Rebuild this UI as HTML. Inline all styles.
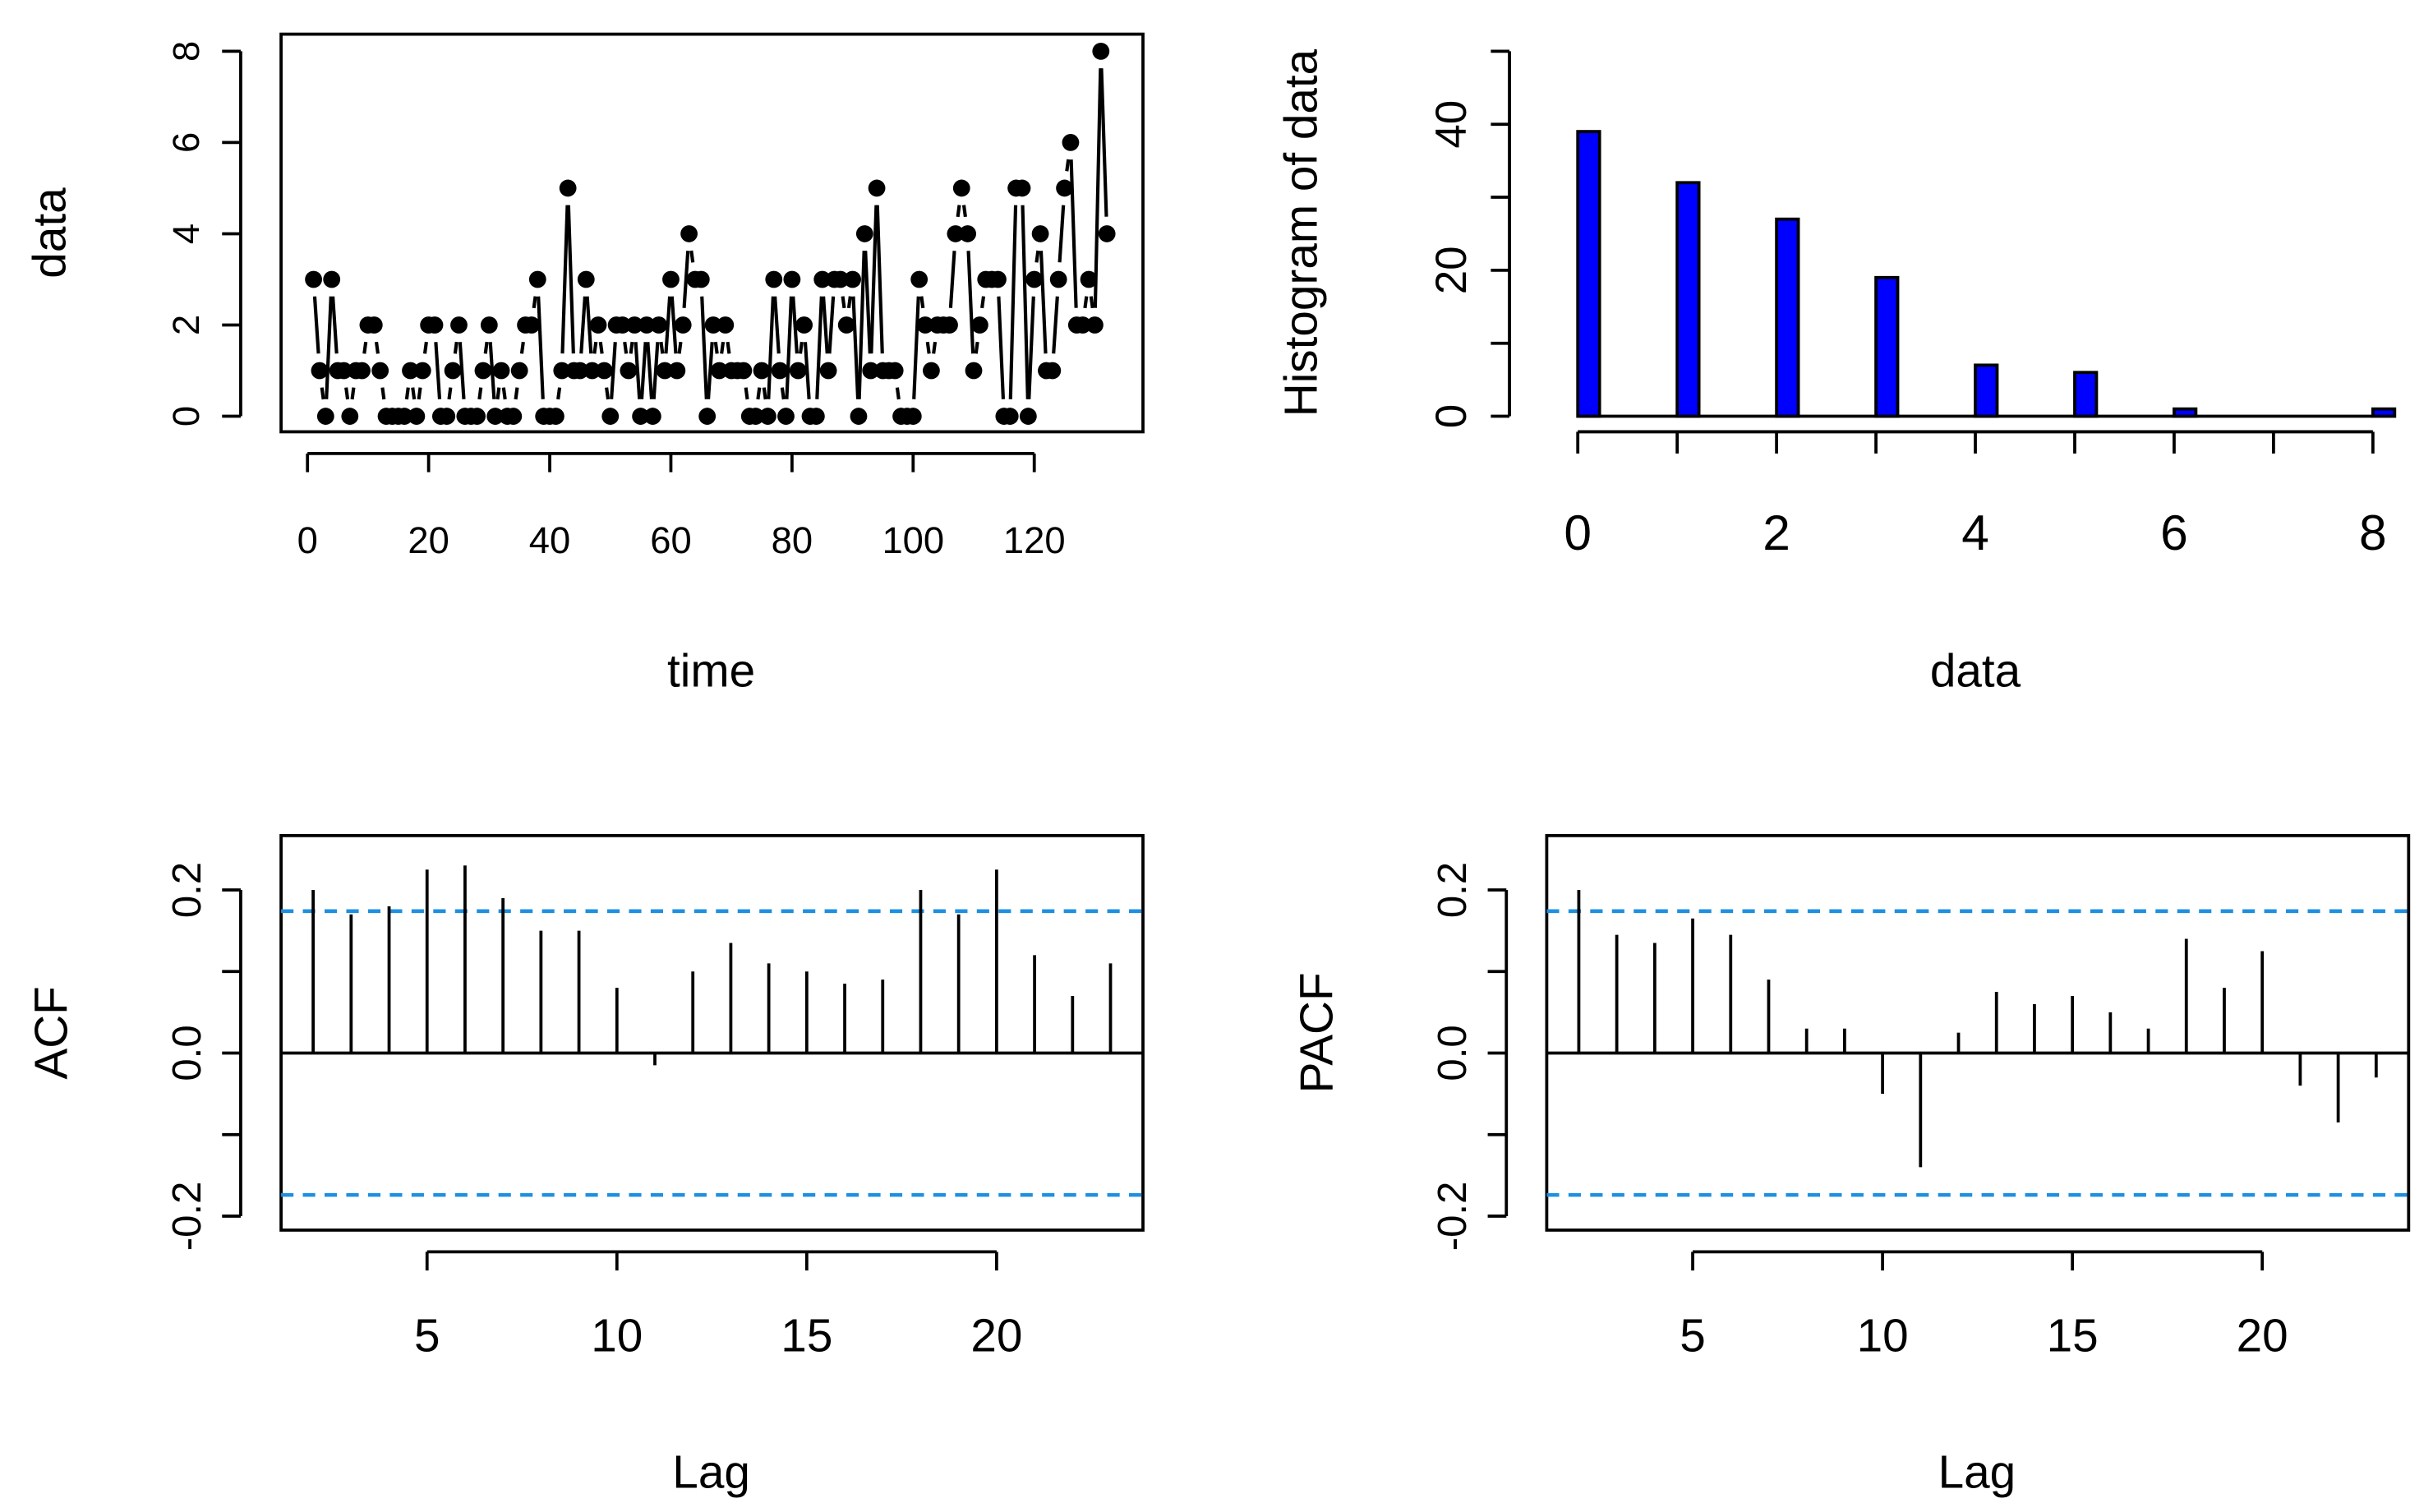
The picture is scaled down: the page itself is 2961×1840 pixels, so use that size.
<!DOCTYPE html>
<html><head><meta charset="utf-8"><style>
html,body{margin:0;padding:0;background:#fff}
svg{display:block}
text{font-family:"Liberation Sans",Arial,sans-serif;fill:#000}
</style></head><body>
<svg id="fig" width="2961" height="1840" viewBox="0 0 1566.7 973.5" preserveAspectRatio="none" xmlns="http://www.w3.org/2000/svg"></svg>
<script>
// ---- data ----
const seriesValues = [3,1,0,3,1,1,0,1,1,2,2,1,0,0,0,0,1,0,1,2,
2,0,0,1,2,0,0,0,1,2,0,1,0,0,1,2,2,3,0,0,
0,1,5,1,1,3,1,2,1,0,2,2,1,2,0,2,0,2,1,3,
1,2,4,3,3,0,2,1,2,1,1,1,0,0,1,0,3,1,0,3,
1,2,0,0,3,1,3,3,2,3,0,4,1,5,1,1,1,0,0,0,
3,2,1,2,2,2,4,5,4,1,2,3,3,3,0,0,5,5,0,3,
4,1,1,3,5,6,2,2,3,2,8,4];
const histBins = [0,1,2,3,4,5,6,7,8];
const histCounts = [39,32,27,19,7,6,1,0,1];
const acfLags = [2,3,4,5,6,7,8,9,10,11,12,13,14,15,16,17,18,19,20,21,22,23];
const acfValues = [0.20,0.17,0.18,0.225,0.23,0.19,0.15,0.15,0.08,-0.015,0.10,0.135,0.11,0.10,0.085,0.09,0.20,0.17,0.225,0.12,0.07,0.11];
const pacfValues = [0.20,0.145,0.135,0.165,0.145,0.09,0.03,0.03,-0.05,-0.14,0.025,0.075,0.06,0.07,0.05,0.03,0.14,0.08,0.125,-0.04,-0.085,-0.03];
const confBound = 0.174;
const timeTicks = [0,20,40,60,80,100,120];
const dataTicks = [0,2,4,6,8];
const histXTicks = [0,1,2,3,4,5,6,7,8];
const histXLabels = [0,2,4,6,8];
const histYTicks = [0,10,20,30,40,50];
const histYLabels = [0,20,40];
const lagTicks = [5,10,15,20];
const acfYTicks = [-0.2,-0.1,0,0.1,0.2];
const acfYLabels = [-0.2,0,0.2];

const svg = document.getElementById('fig');
const NS = 'http://www.w3.org/2000/svg';
function mk(tag, attrs, parent){const e=document.createElementNS(NS,tag);for(const k in attrs)e.setAttribute(k,attrs[k]);(parent||svg).appendChild(e);return e;}
function line(g,x1,y1,x2,y2,w,c,dash){const l=mk('line',{x1,y1,x2,y2,stroke:c||'#000','stroke-width':w||2},g);if(dash)l.setAttribute('stroke-dasharray',dash);return l;}
function txt(g,x,y,s,size,rot){const t=mk('text',{x,y,'font-size':size,'text-anchor':'middle'},g);if(rot)t.setAttribute('transform','rotate(-90 '+x+' '+y+')');t.textContent=s;return t;}

// ---- panel 1: time series ----
(function(){
  const g=mk('g',{});
  
  
  const X=t=>198+t*3.9, Y=v=>268-v*29.375;
  const box=mk('rect',{x:181,y:22,width:555,height:256,fill:'none',stroke:'#000','stroke-width':2},g);
  
  
  line(g,155,Y(0),155,Y(8));
  dataTicks.forEach(v=>{line(g,143,Y(v),155,Y(v));const t=txt(g,128,Y(v),String(v),24,true);});
  line(g,X(0),292,X(120),292);
  timeTicks.forEach(v=>{line(g,X(v),292,X(v),304);const t=txt(g,X(v),356,String(v),24);});
  const xt=txt(g,458,442,'time',30);
  const yt=txt(g,42,150,'data',30,true);
  const gap=11;
  for(let i=0;i<seriesValues.length-1;i++){
    const x1=X(i+1),y1=Y(seriesValues[i]),x2=X(i+2),y2=Y(seriesValues[i+1]);
    const dx=x2-x1,dy=y2-y1,L=Math.hypot(dx,dy);
    if(L<=2*gap)continue;
    const ux=dx/L,uy=dy/L;
    const s=line(g,x1+ux*gap,y1+uy*gap,x2-ux*gap,y2-uy*gap,2.2);
    
    
  }
  seriesValues.forEach((v,i)=>{
    const c=mk('circle',{cx:X(i+1),cy:Y(v),r:5.5,fill:'#000'},g);
    
    
  });
})();

// ---- panel 2: histogram ----
(function(){
  const g=mk('g',{});
  
  
  const X=v=>1016+v*64, Y=c=>268-c*4.7;
  line(g,972,Y(0),972,Y(50));
  histYTicks.forEach(v=>line(g,960,Y(v),972,Y(v)));
  histYLabels.forEach(v=>{const t=txt(g,944,Y(v),String(v),28,true);});
  line(g,X(0),278,X(8),278);
  histXTicks.forEach(v=>line(g,X(v),278,X(v),292));
  histXLabels.forEach(v=>{const t=txt(g,X(v),354,String(v),32);});
  line(g,X(0),268,X(8),268);
  histBins.forEach((b,i)=>{
    if(histCounts[i]<=0)return;
    const r=mk('rect',{x:X(b),y:Y(histCounts[i]),width:14,height:Y(0)-Y(histCounts[i]),fill:'#0000ff',stroke:'#000','stroke-width':2},g);
    
    
  });
  const xt=txt(g,1272,442,'data',30);
  const yt=txt(g,848,150,'Histogram of data',30,true);
})();

// ---- panels 3/4: ACF & PACF ----
function corrPanel(x0,vals,title,name){
  const g=mk('g',{});
  
  
  const X=l=>x0+(l-5)*24.45, Y=v=>678-v*525;
  const bx=x0-94;
  const box=mk('rect',{x:bx,y:538,width:555,height:254,fill:'none',stroke:'#000','stroke-width':2},g);
  
  
  line(g,bx-26,Y(-0.2),bx-26,Y(0.2));
  acfYTicks.forEach(v=>line(g,bx-38,Y(v),bx-26,Y(v)));
  acfYLabels.forEach(v=>{const t=txt(g,bx-52,Y(v),v.toFixed(1),26,true);});
  line(g,X(lagTicks[0]),806,X(lagTicks[lagTicks.length-1]),806);
  lagTicks.forEach(v=>{line(g,X(v),806,X(v),818);const t=txt(g,X(v),870,String(v),30);});
  line(g,bx,Y(0),bx+555,Y(0),2);
  const d1=line(g,bx,Y(confBound),bx+555,Y(confBound),2.4,'#1f8fe0','8 6');
  
  const d2=line(g,bx,Y(-confBound),bx+555,Y(-confBound),2.4,'#1f8fe0','8 6');
  
  acfLags.forEach((l,i)=>{
    const s=line(g,X(l),Y(0),X(l),Y(vals[i]),2);
    
    
  });
  const xt=txt(g,bx+277,958,'Lag',30);
  const yt=txt(g,bx-138,665,title,30,true);
}
corrPanel(275,acfValues,'ACF','acf-panel');
corrPanel(1090,pacfValues,'PACF','pacf-panel');
</script>
</body></html>
